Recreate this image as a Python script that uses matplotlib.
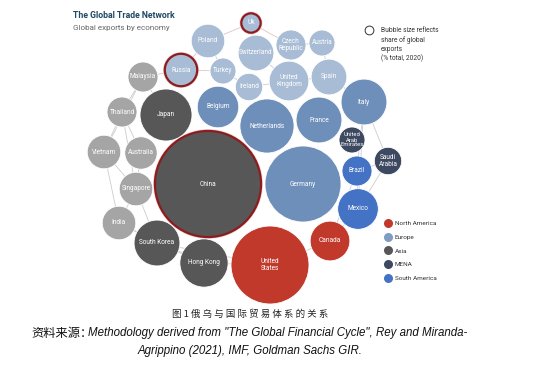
import numpy as np
import matplotlib.pyplot as plt
from matplotlib.patches import Circle
from matplotlib.lines import Line2D

plt.rcParams['font.family'] = ['Roboto', 'DejaVu Sans']

# economies, layout position (network layout, px-like units) and share of global exports (% 2020)
countries = ["Ukraine", "Poland", "Czech\nRepublic", "Austria", "Switzerland", "Russia", "Turkey",
             "Ireland", "United\nKingdom", "Spain", "Italy", "Malaysia", "Thailand", "Japan",
             "Vietnam", "Australia", "Singapore", "India", "South Korea", "Hong Kong", "China",
             "Belgium", "Netherlands", "France", "United\nArab\nEmirates", "Saudi\nArabia",
             "Germany", "Brazil", "Mexico", "Canada", "United\nStates"]
labels = ["Uk", "Poland", "Czech\nRepublic", "Austria", "Switzerland", "Russia", "Turkey",
          "Ireland", "United\nKingdom", "Spain", "Italy", "Malaysia", "Thailand", "Japan",
          "Vietnam", "Australia", "Singapore", "India", "South Korea", "Hong Kong", "China",
          "Belgium", "Netherlands", "France", "United\nArab\nEmirates", "Saudi\nArabia",
          "Germany", "Brazil", "Mexico", "Canada", "United\nStates"]
layout_x = [251, 208, 291, 322, 256, 181, 223, 249, 289, 329, 364, 143, 122, 166,
            104, 141, 136, 119, 157, 204, 208, 218, 267, 319, 352, 388, 303, 357, 358, 330, 270]
layout_y = [23, 41, 45, 43, 53, 70, 71, 87, 81, 77, 102, 77, 112, 115,
            152, 153, 189, 223, 243, 263, 184, 107, 126, 120, 140, 161, 184, 171, 209, 241, 265]
export_share = [0.5, 1.5, 1.2, 0.9, 1.7, 1.4, 0.9, 1.0, 2.1, 1.7, 2.8, 1.2, 1.2, 3.6,
                1.5, 1.4, 1.5, 1.5, 2.8, 3.1, 15.0, 2.3, 3.9, 2.8, 0.9, 1.0, 7.7, 1.2, 2.2, 2.1, 8.1]
group = ["Europe_l", "Europe_l", "Europe_l", "Europe_l", "Europe_l", "Europe_l", "Europe_l",
         "Europe_l", "Europe_l", "Europe_l", "Europe", "Asia_l", "Asia_l", "Asia",
         "Asia_l", "Asia_l", "Asia_l", "Asia_l", "Asia", "Asia", "Asia",
         "Europe", "Europe", "Europe", "MENA", "MENA",
         "Europe", "South America", "South America", "North America", "North America"]
highlight = ["Ukraine", "Russia", "China"]

edges = [("Malaysia", "Thailand"), ("Thailand", "Vietnam"), ("Thailand", "Singapore"),
         ("Vietnam", "Singapore"), ("Singapore", "India"), ("India", "South Korea"),
         ("Singapore", "South Korea"), ("Australia", "Singapore"), ("Malaysia", "Russia"),
         ("Malaysia", "Japan"), ("South Korea", "Hong Kong"), ("Hong Kong", "United\nStates"),
         ("Russia", "Poland"), ("Poland", "Ukraine"), ("Ukraine", "Switzerland"),
         ("Ukraine", "Czech\nRepublic"), ("Czech\nRepublic", "Austria"), ("Austria", "Spain"),
         ("Spain", "Italy"), ("Italy", "Saudi\nArabia"), ("Italy", "Brazil"),
         ("Saudi\nArabia", "Brazil"), ("Saudi\nArabia", "Mexico"), ("Mexico", "Canada"),
         ("Canada", "United\nStates"), ("Brazil", "Mexico"), ("Vietnam", "India"),
         ("Thailand", "Australia"), ("South Korea", "United\nStates"), ("India", "Hong Kong"),
         ("Italy", "Mexico"), ("Canada", "Brazil"), ("Russia", "Turkey"), ("Turkey", "Ireland"),
         ("Poland", "Turkey"), ("Switzerland", "United\nKingdom"), ("Ireland", "United\nKingdom"),
         ("United\nKingdom", "Spain"), ("Malaysia", "Vietnam")]

colors = {"North America": "#c0392b", "Europe_l": "#a8bcd5", "Europe": "#6f8fbb",
          "Asia": "#575757", "Asia_l": "#a5a5a5", "MENA": "#3d4960",
          "South America": "#4472c4"}
legend_groups = [("North America", "#c0392b"), ("Europe", "#7f9cc2"), ("Asia", "#575757"),
                 ("MENA", "#3d4960"), ("South America", "#4472c4")]

fig = plt.figure(figsize=(5.44, 3.66), dpi=100)
ax = fig.add_axes([0, 0, 1, 1])
ax.set_xlim(0, 544)
ax.set_ylim(366, 0)
ax.set_aspect('equal')
ax.axis('off')

k = 13.7  # radius scale per sqrt(% share)
pos = {c: (x, y) for c, x, y in zip(countries, layout_x, layout_y)}

for a, b in edges:
    c = "#e3c3c3" if ("Russia" in (a, b) or "Ukraine" in (a, b)) else "#cccccc"
    ax.plot([pos[a][0], pos[b][0]], [pos[a][1], pos[b][1]], color=c, lw=0.6, zorder=1)

for c, lab, x, y, s, g in zip(countries, labels, layout_x, layout_y, export_share, group):
    r = k * np.sqrt(s)
    if c in highlight:
        ax.add_patch(Circle((x, y), r + 1.8, facecolor="#f3d3d3", edgecolor="none", zorder=2))
        ax.add_patch(Circle((x, y), r, facecolor=colors[g], edgecolor="#8b1c1f",
                            lw=1.6, zorder=3))
    else:
        ax.add_patch(Circle((x, y), r, facecolor=colors[g], edgecolor="white",
                            lw=0.6, zorder=3))
    fs = 4.2 if lab.count("\n") >= 2 else 4.7
    ax.text(x, y, lab, color="white", fontsize=fs, ha="center", va="center",
            linespacing=1.0, zorder=4)

ax.text(73, 16, "The Global Trade Network", fontsize=6.3, fontweight="bold",
        color="#1e4a66", ha="left", va="center")
ax.text(73, 28, "Global exports by economy", fontsize=5.8, color="#666666",
        ha="left", va="center")

ax.scatter([369], [30], s=40, facecolor="white", edgecolor="#333333", lw=0.7)
ax.text(381, 27.5, "Bubble size reflects\nshare of global\nexports\n(% total, 2020)",
        fontsize=4.8, color="#333333", ha="left", va="top", linespacing=1.3)

handles = [Line2D([], [], marker="o", ls="none", markersize=6.5, markerfacecolor=c,
                  markeredgecolor="none", label=n) for n, c in legend_groups]
fig.legend(handles=handles, loc="upper left", bbox_to_anchor=(0.697, 0.413),
           frameon=False, fontsize=4.6, labelspacing=1.3, handletextpad=0.5,
           handlelength=1.0, labelcolor="#333333")

cx = 250 / 544
fig.text(cx, 1 - 314 / 366, "图 1 俄 乌 与 国 际 贸 易 体 系 的 关 系", fontsize=6.8,
         ha="center", va="center", color="#222222", family=["Noto Sans CJK SC"])
fig.text(0.057, 1 - 333 / 366, "资料来源：", fontsize=8.8, ha="left", va="center",
         family=["Noto Sans CJK SC"], color="#111111")
fig.text(0.162, 1 - 333 / 366,
         "Methodology derived from \"The Global Financial Cycle\", Rey and Miranda-",
         fontsize=8.3, style="italic", ha="left", va="center",
         family=["Liberation Sans"], color="#111111")
fig.text(cx, 1 - 351 / 366, "Agrippino (2021), IMF, Goldman Sachs GIR.",
         fontsize=8.3, style="italic", ha="center", va="center",
         family=["Liberation Sans"], color="#111111")

fig.savefig("out.png", dpi=100, facecolor="white")
